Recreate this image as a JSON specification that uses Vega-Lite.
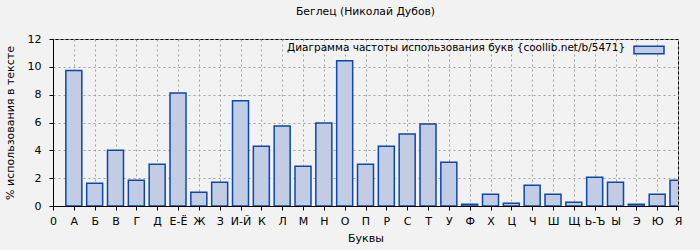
{
  "$schema": "https://vega.github.io/schema/vega-lite/v6.json",
  "width": 625,
  "height": 167,
  "autosize": "none",
  "padding": {"left": 53, "top": 39, "right": 22, "bottom": 44},
  "background": "#f2f2f2",
  "title": {
    "text": "Беглец (Николай Дубов)",
    "font": "DejaVu Sans",
    "fontSize": 10.8,
    "fontWeight": "normal",
    "color": "#000000",
    "anchor": "middle",
    "offset": 16
  },
  "config": {
    "view": {"stroke": "#000000", "strokeWidth": 1},
    "axis": {
      "labelFont": "DejaVu Sans",
      "labelFontSize": 11,
      "labelColor": "#000000",
      "titleFont": "DejaVu Sans",
      "titleFontSize": 11,
      "titleFontWeight": "normal",
      "titleColor": "#000000",
      "domainColor": "#000000",
      "tickColor": "#000000",
      "tickSize": 4,
      "grid": true,
      "gridColor": "#a0a0a0",
      "gridDash": [2, 3],
      "gridWidth": 1
    }
  },
  "data": {
    "values": [
      {"letter": "А", "value": 9.73},
      {"letter": "Б", "value": 1.63},
      {"letter": "В", "value": 4.01},
      {"letter": "Г", "value": 1.85},
      {"letter": "Д", "value": 3.0},
      {"letter": "Е-Ё", "value": 8.12},
      {"letter": "Ж", "value": 0.99},
      {"letter": "З", "value": 1.71},
      {"letter": "И-Й", "value": 7.57},
      {"letter": "К", "value": 4.3},
      {"letter": "Л", "value": 5.74},
      {"letter": "М", "value": 2.86},
      {"letter": "Н", "value": 5.96},
      {"letter": "О", "value": 10.43},
      {"letter": "П", "value": 3.0},
      {"letter": "Р", "value": 4.3},
      {"letter": "С", "value": 5.17},
      {"letter": "Т", "value": 5.89},
      {"letter": "У", "value": 3.15},
      {"letter": "Ф", "value": 0.12},
      {"letter": "Х", "value": 0.84},
      {"letter": "Ц", "value": 0.19},
      {"letter": "Ч", "value": 1.49},
      {"letter": "Ш", "value": 0.84},
      {"letter": "Щ", "value": 0.27},
      {"letter": "Ь-Ъ", "value": 2.07},
      {"letter": "Ы", "value": 1.71},
      {"letter": "Э", "value": 0.12},
      {"letter": "Ю", "value": 0.84},
      {"letter": "Я", "value": 1.85}
    ]
  },
  "mark": {
    "type": "bar",
    "width": 16,
    "stroke": "#0a46b4",
    "strokeWidth": 1.5,
    "clip": true
  },
  "encoding": {
    "x": {
      "field": "letter",
      "type": "nominal",
      "sort": null,
      "scale": {
        "type": "point",
        "padding": 0,
        "domain": ["0", "А", "Б", "В", "Г", "Д", "Е-Ё", "Ж", "З", "И-Й", "К", "Л", "М", "Н", "О", "П", "Р", "С", "Т", "У", "Ф", "Х", "Ц", "Ч", "Ш", "Щ", "Ь-Ъ", "Ы", "Э", "Ю", "Я"]
      },
      "axis": {
        "title": "Буквы",
        "labelAngle": 0,
        "labelPadding": 5,
        "titlePadding": 6
      }
    },
    "y": {
      "field": "value",
      "type": "quantitative",
      "scale": {"domain": [0, 12], "nice": false},
      "axis": {
        "title": "% использования в тексте",
        "values": [0, 2, 4, 6, 8, 10, 12],
        "labelPadding": 8,
        "titlePadding": 12
      }
    },
    "fill": {
      "datum": "Диаграмма",
      "type": "nominal",
      "scale": {"range": ["#c2cde3"]},
      "legend": {
        "orient": "none",
        "legendX": 234,
        "legendY": -2,
        "title": "Диаграмма частоты использования букв {coollib.net/b/5471}",
        "titleOrient": "left",
        "titleFont": "DejaVu Sans",
        "titleFontSize": 10.5,
        "titleFontWeight": "normal",
        "titleColor": "#000000",
        "titleLimit": 1000,
        "titlePadding": 7,
        "titleBaseline": "middle",
        "labelExpr": "''",
        "labelOffset": 0,
        "symbolType": "M-1,-0.45H1V0.05H-1Z",
        "symbolSize": 900,
        "symbolStrokeColor": "#0a46b4",
        "symbolStrokeWidth": 1.5,
        "padding": 0
      }
    }
  }
}
